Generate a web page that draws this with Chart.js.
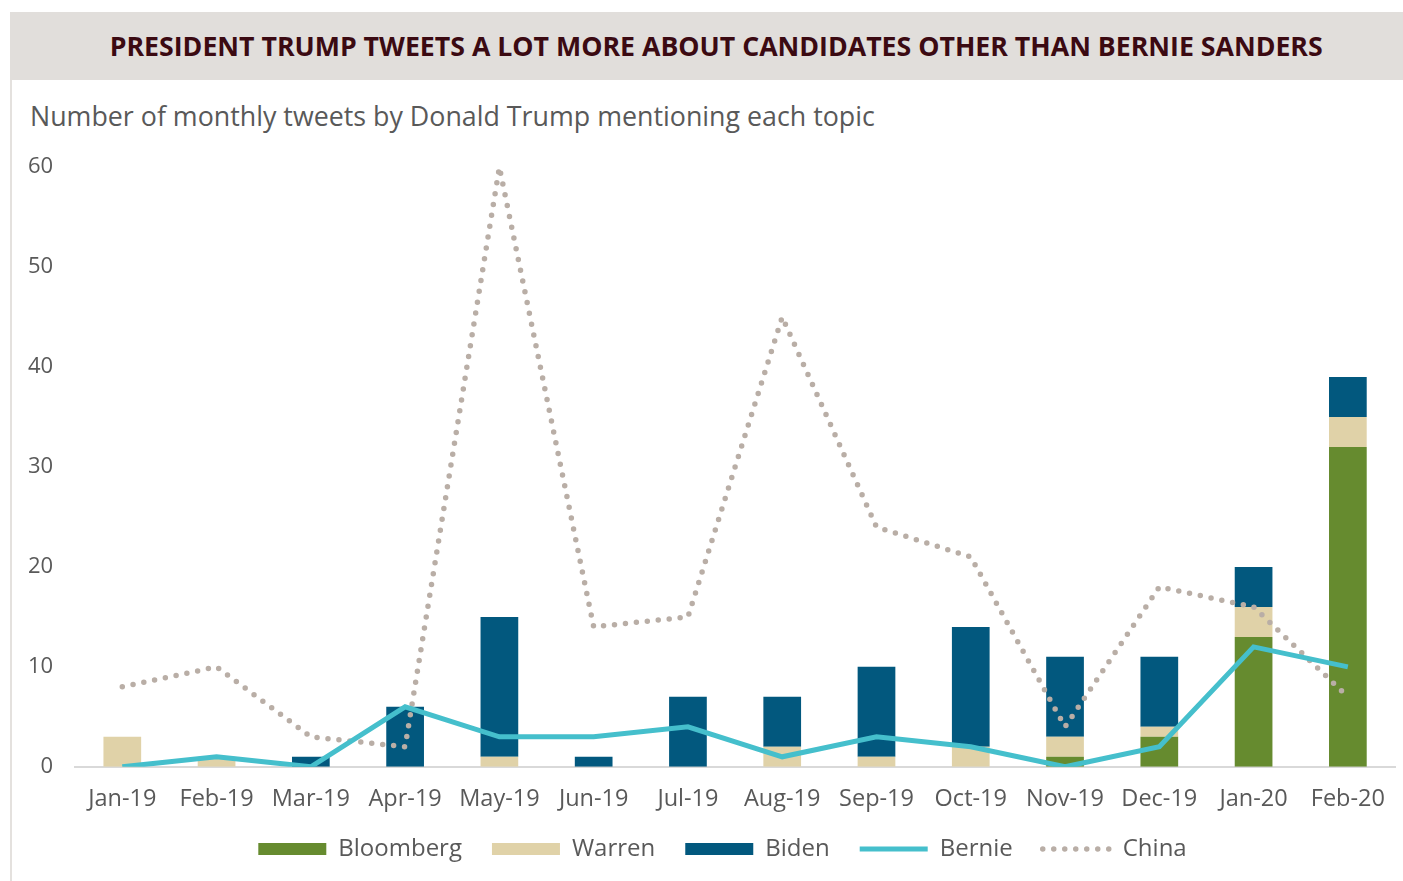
<!DOCTYPE html>
<html>
<head>
<meta charset="utf-8">
<script src="https://cdn.jsdelivr.net/npm/chart.js@4.4.0/dist/chart.umd.min.js"></script>
<style>
  html, body { margin:0; padding:0; background:#fff; }
  body { width:1403px; height:881px; position:relative; overflow:hidden; font-family:"Open Sans", sans-serif; }
  .panel { position:absolute; left:10px; top:12px; width:1393px; height:869px; border-left:2px solid #e4e1de; box-sizing:border-box; }
  .head { position:absolute; left:10px; top:12px; width:1393px; height:68px; background:#e1dedb; text-align:center; line-height:64px; }
  .head span { display:inline-block; font-size:27px; font-weight:700; color:#3b0a12; white-space:nowrap; line-height:1; vertical-align:middle; transform-origin:center; position:relative; left:10px; }
  .sub { position:absolute; left:30px; top:97px; font-size:26.8px; color:#595959; white-space:nowrap; }
  .wrap { position:absolute; left:0; top:140px; width:1403px; height:741px; }
</style>
</head>
<body>
<div class="panel"></div>
<div class="head"><span id="title">PRESIDENT TRUMP TWEETS A LOT MORE ABOUT CANDIDATES OTHER THAN BERNIE SANDERS</span></div>
<div class="sub">Number of monthly tweets by Donald Trump mentioning each topic</div>
<div class="wrap"><canvas id="c"></canvas></div>
<script>
/* ---------- 資料 ---------- */
const months = ['Jan-19','Feb-19','Mar-19','Apr-19','May-19','Jun-19','Jul-19','Aug-19','Sep-19','Oct-19','Nov-19','Dec-19','Jan-20','Feb-20'];
const bloomberg = [0,0,0,0,0,0,0,0,0,0,1,3,13,32];
const warren    = [3,1,0,0,1,0,0,2,1,2,2,1,3,3];
const biden     = [0,0,1,6,14,1,7,5,9,12,8,7,4,4];
const bernie    = [0,1,0,6,3,3,4,1,3,2,0,2,12,10];
const china     = [8,10,3,2,60,14,15,45,24,21,4,18,16,7];
const yTicks    = [0,10,20,30,40,50,60];

const TXT = '#595959';
const FONT = "'Open Sans', sans-serif";

/* 標題寬度對齊參考圖 */
const fit = (id, w) => { const e = document.getElementById(id); const r = e.getBoundingClientRect().width; if (r) e.style.transform = `scaleX(${w / r})`; };
fit('title', 1213);

/* 圖例位置微調（legend 高度、整體平移） */
const LEG_SHRINK = 6, LEG_UP = 16, LEG_DX = 18;
const legendTweak = {
  id:'legendTweak',
  afterInit(chart){
    const lg = chart.legend, f = lg.fit.bind(lg);
    lg.fit = function(){ f(); this.height -= LEG_SHRINK; };
  },
  afterLayout(chart){
    const lg = chart.legend;
    lg.left += LEG_DX; lg.right += LEG_DX;
    lg.top -= LEG_UP; lg.bottom -= LEG_UP;
  }
};

const ds = [
  {type:'bar', label:'Bloomberg', data:bloomberg, backgroundColor:'#668b2f', stack:'a', order:2},
  {type:'bar', label:'Warren', data:warren, backgroundColor:'#e0d2a8', stack:'a', order:2},
  {type:'bar', label:'Biden', data:biden, backgroundColor:'#02587e', stack:'a', order:2},
  {type:'line', label:'Bernie', data:bernie, borderColor:'#45bfcc', backgroundColor:'#45bfcc', borderWidth:5,
   pointRadius:0, tension:0, stack:'bernie', order:0},
  {type:'line', label:'China', data:china, borderColor:'#b9aea6', backgroundColor:'#b9aea6', borderWidth:5.5,
   borderDash:[0,11], borderCapStyle:'round', pointRadius:0, tension:0, stack:'china', order:1},
];

new Chart(document.getElementById('c'), {
  data: { labels: months, datasets: ds },
  plugins: [legendTweak],
  options: {
    responsive:true, maintainAspectRatio:false, animation:false,
    layout:{ padding:{ left:14, right:8, top:3, bottom:0 } },
    datasets:{ bar:{ barPercentage:0.4, categoryPercentage:1 } },
    plugins:{
      tooltip:{ enabled:false },
      legend:{
        position:'bottom',
        labels:{
          color:TXT, font:{family:FONT, size:24}, boxWidth:68, boxHeight:12, padding:30,
          usePointStyle:true, pointStyleWidth:68,
          generateLabels:(chart)=>chart.data.datasets.map((d,i)=>({
            text:d.label, datasetIndex:i,
            fillStyle: d.type==='bar' ? d.backgroundColor : 'rgba(0,0,0,0)',
            strokeStyle: d.type==='bar' ? 'rgba(0,0,0,0)' : d.borderColor,
            lineWidth: d.type==='bar' ? 0 : d.borderWidth,
            lineDash: d.borderDash || [], lineCap: d.borderCapStyle || 'butt',
            pointStyle: d.type==='bar' ? 'rect' : 'line',
            fontColor:TXT,
          }))
        }
      }
    },
    scales:{
      x:{ stacked:true, grid:{display:false}, border:{color:'#d9d9d9', width:2},
          ticks:{ color:TXT, font:{family:FONT, size:23.5}, padding:10, maxRotation:0 } },
      y:{ stacked:true, min:0, max:60, grid:{display:false}, border:{display:false},
          afterBuildTicks:(s)=>{ s.ticks = yTicks.map(v=>({value:v})); },
          ticks:{ color:TXT, font:{family:FONT, size:22}, padding:14 } }
    }
  }
});
</script>
</body>
</html>
